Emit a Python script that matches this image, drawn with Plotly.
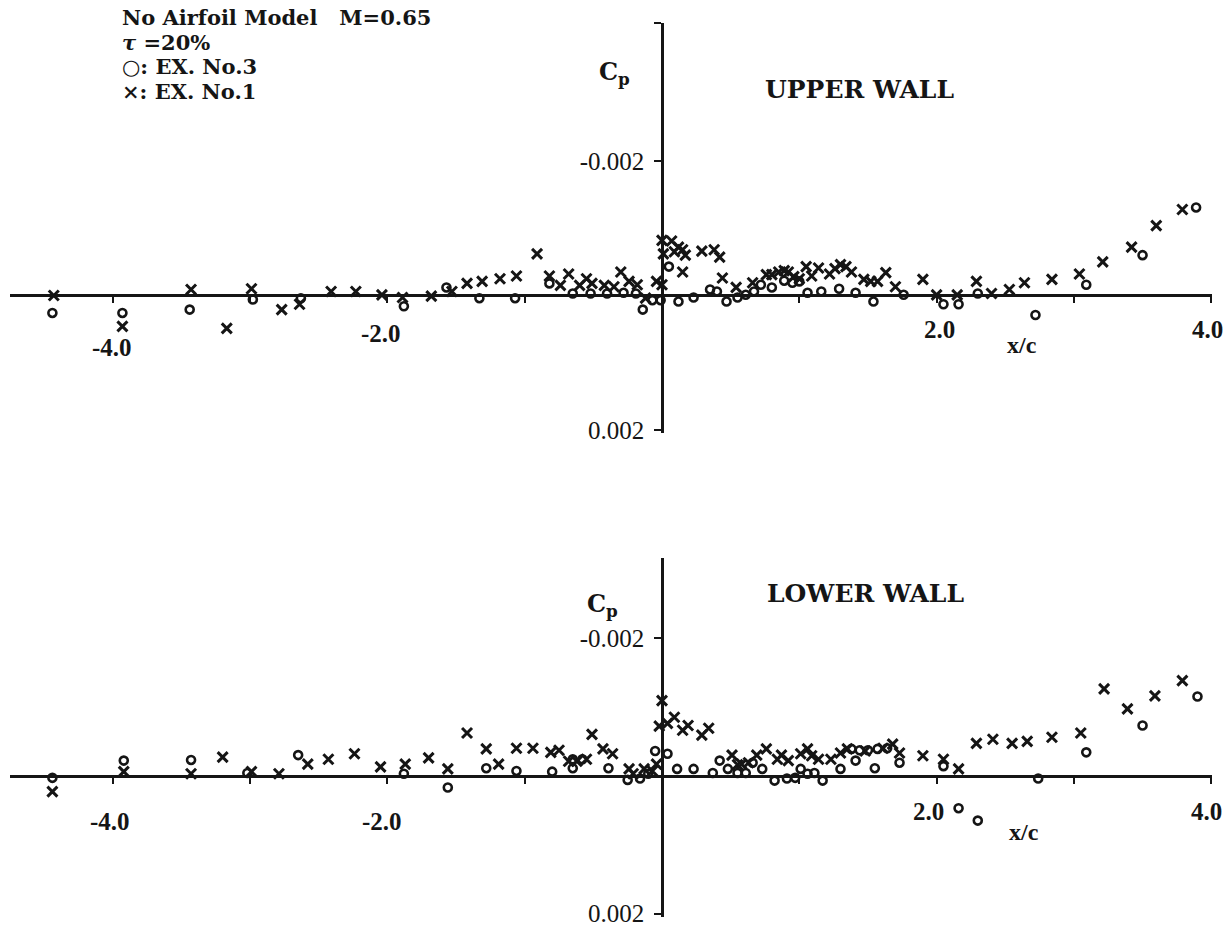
import plotly.graph_objects as go

# ---------------- data (x/c, Cp) ----------------
# UPPER WALL
up_o_x = [-4.44, -3.93, -3.44, -2.98, -2.63, -1.88, -1.57, -1.33, -1.07, -0.82, -0.65, -0.52, -0.40,
          -0.28, -0.19, -0.14, -0.07, -0.01, 0.05, 0.12, 0.23, 0.35, 0.40, 0.47, 0.55, 0.61, 0.67,
          0.72, 0.80, 0.89, 0.95, 1.00, 1.06, 1.16, 1.29, 1.41, 1.54, 1.76, 2.05, 2.16, 2.30, 2.72,
          3.09, 3.50, 3.89]
up_o_cp = [0.00026, 0.00026, 0.00021, 0.00006, 0.00004, 0.00016, -0.00012, 0.00004, 0.00004, -0.00018,
           -0.00003, -0.00003, -0.00003, -0.00004, -0.00003, 0.00021, 0.00007, 0.00007, -0.00043, 0.00009,
           0.00003, -0.00009, -0.00006, 0.00009, 0.00003, -0.00001, -0.00006, -0.00016, -0.00012, -0.00022,
           -0.00019, -0.00021, -0.00004, -0.00006, -0.00010, -0.00004, 0.00009, -0.00001, 0.00013, 0.00013,
           -0.00003, 0.00029, -0.00016, -0.00060, -0.00131]

up_x_x = [-4.43, -3.93, -3.43, -3.17, -2.99, -2.77, -2.64, -2.41, -2.23, -2.04, -1.89, -1.68, -1.53,
          -1.42, -1.31, -1.18, -1.06, -0.91, -0.82, -0.74, -0.68, -0.60, -0.55, -0.51, -0.42, -0.35,
          -0.30, -0.24, -0.18, -0.12, -0.04, 0.00, 0.00, 0.01, 0.07, 0.09, 0.12, 0.15, 0.17, 0.15,
          0.29, 0.38, 0.42, 0.44, 0.54, 0.66, 0.76, 0.80, 0.85, 0.89, 0.92, 0.96, 1.00, 1.05, 1.09,
          1.14, 1.22, 1.26, 1.30, 1.34, 1.38, 1.47, 1.52, 1.57, 1.63, 1.70, 1.90, 2.00, 2.15, 2.29,
          2.40, 2.53, 2.64, 2.84, 3.04, 3.21, 3.42, 3.60, 3.79]
up_x_cp = [0.0, 0.00046, -0.00009, 0.00049, -0.00010, 0.00021, 0.00013, -0.00006, -0.00006, -0.00001,
           0.00003, 0.00001, -0.00006, -0.00018, -0.00021, -0.00025, -0.00029, -0.00062, -0.00029, -0.00015,
           -0.00032, -0.00015, -0.00025, -0.00018, -0.00015, -0.00013, -0.00035, -0.00021, -0.00016, 0.00004,
           -0.00021, -0.00016, -0.00082, -0.00062, -0.00081, -0.00065, -0.00072, -0.00068, -0.00060, -0.00035,
           -0.00066, -0.00068, -0.00057, -0.00026, -0.00012, -0.00019, -0.00031, -0.00031, -0.00035, -0.00037,
           -0.00035, -0.00028, -0.00025, -0.00043, -0.00029, -0.00041, -0.00032, -0.00040, -0.00046, -0.00043,
           -0.00035, -0.00024, -0.00021, -0.00021, -0.00034, -0.00013, -0.00024, -0.00001, -0.00001, -0.00021,
           -0.00003, -0.00009, -0.00019, -0.00024, -0.00032, -0.00050, -0.00072, -0.00104, -0.00128]

# LOWER WALL
lo_o_x = [-4.44, -3.92, -3.43, -3.02, -2.65, -1.88, -1.56, -1.28, -1.06, -0.80, -0.65, -0.65, -0.58,
          -0.39, -0.25, -0.16, -0.10, -0.05, 0.04, 0.11, 0.23, 0.37, 0.42, 0.48, 0.55, 0.61, 0.66,
          0.73, 0.82, 0.91, 0.97, 1.01, 1.06, 1.11, 1.17, 1.30, 1.38, 1.41, 1.44, 1.50, 1.55, 1.57,
          1.64, 1.73, 2.05, 2.16, 2.30, 2.74, 3.09, 3.50, 3.90]
lo_o_cp = [0.00003, -0.00022, -0.00023, -0.00004, -0.00030, -0.00003, 0.00017, -0.00011, -0.00007, -0.00006,
           -0.00024, -0.00011, -0.00024, -0.00011, 0.00006, 0.00004, -0.00003, -0.00036, -0.00032, -0.00010,
           -0.00010, -0.00004, -0.00022, -0.00010, -0.00004, -0.00004, -0.00019, -0.00010, 0.00007, 0.00004,
           0.00003, -0.00010, -0.00003, -0.00004, 0.00007, -0.00010, -0.00039, -0.00022, -0.00037, -0.00037,
           -0.00011, -0.00039, -0.00040, -0.00019, -0.00014, 0.00047, 0.00065, 0.00004, -0.00034, -0.00073,
           -0.00115]

lo_x_x = [-4.44, -3.92, -3.43, -3.20, -2.99, -2.79, -2.58, -2.43, -2.24, -2.05, -1.87, -1.70, -1.56,
          -1.42, -1.28, -1.19, -1.06, -0.94, -0.81, -0.75, -0.68, -0.62, -0.55, -0.51, -0.43, -0.36,
          -0.24, -0.21, -0.13, -0.07, -0.04, -0.02, 0.00, 0.04, 0.09, 0.15, 0.19, 0.29, 0.34, 0.51,
          0.55, 0.58, 0.63, 0.69, 0.76, 0.84, 0.87, 0.92, 1.01, 1.06, 1.09, 1.14, 1.23, 1.30, 1.35,
          1.48, 1.61, 1.68, 1.73, 1.90, 2.05, 2.16, 2.29, 2.41, 2.55, 2.66, 2.84, 3.05, 3.22, 3.39,
          3.59, 3.79]
lo_x_cp = [0.00023, -0.00006, -0.00003, -0.00027, -0.00006, -0.00003, -0.00017, -0.00024, -0.00032, -0.00013,
           -0.00017, -0.00026, -0.00010, -0.00062, -0.00039, -0.00017, -0.00040, -0.00040, -0.00034, -0.00037,
           -0.00021, -0.00021, -0.00024, -0.00060, -0.00039, -0.00032, -0.00010, -0.00003, -0.00010, -0.00007,
           -0.00017, -0.00072, -0.00109, -0.00076, -0.00085, -0.00066, -0.00073, -0.00059, -0.00069, -0.00030,
           -0.00016, -0.00017, -0.00019, -0.00030, -0.00039, -0.00024, -0.00030, -0.00022, -0.00032, -0.00039,
           -0.00029, -0.00024, -0.00024, -0.00033, -0.00039, -0.00036, -0.00040, -0.00046, -0.00033, -0.00029,
           -0.00024, -0.00010, -0.00047, -0.00053, -0.00047, -0.00050, -0.00056, -0.00062, -0.00126, -0.00097,
           -0.00116, -0.00138]

x_ticks = [-4.0, -3.0, -2.0, -1.0, 1.0, 2.0, 3.0, 4.0]
y_tick_vals = [-0.002, 0.002]
y_tick_text = ["-0.002", "0.002"]

# ---------------- layout geometry (pixels) ----------------
W, H = 1231, 937
X0_PX = 662.0          # x/c = 0
X_SCALE = 137.3        # px per unit x/c
XL_PX, XR_PX = 10, 1212

UP_ZERO, UP_K, UP_TOP, UP_BOT = 299.0, 68000.0, 23, 438
LO_ZERO, LO_K, LO_TOP, LO_BOT = 785.0, 69750.0, 565, 928


def px2fx(px):
    return px / W


def py2fy(py):
    return 1 - py / H


x_range = [(XL_PX - X0_PX) / X_SCALE, (XR_PX - X0_PX) / X_SCALE]
up_range = [(UP_BOT - UP_ZERO) / UP_K, (UP_TOP - UP_ZERO) / UP_K]
lo_range = [(LO_BOT - LO_ZERO) / LO_K, (LO_TOP - LO_ZERO) / LO_K]

INK = "#151515"
NUMF = "Liberation Serif"
WORDF = "DejaVu Serif"

fig = go.Figure()

o_marker = dict(symbol="circle-open", size=8, color=INK, line=dict(width=2.6, color=INK))
x_marker = dict(symbol="x-thin-open", size=10, color=INK, line=dict(width=3, color=INK))

fig.add_trace(go.Scatter(x=up_o_x, y=up_o_cp, mode="markers", marker=o_marker,
                         xaxis="x", yaxis="y", cliponaxis=False, showlegend=False))
fig.add_trace(go.Scatter(x=up_x_x, y=up_x_cp, mode="markers", marker=x_marker,
                         xaxis="x", yaxis="y", cliponaxis=False, showlegend=False))
fig.add_trace(go.Scatter(x=lo_o_x, y=lo_o_cp, mode="markers", marker=o_marker,
                         xaxis="x2", yaxis="y2", cliponaxis=False, showlegend=False))
fig.add_trace(go.Scatter(x=lo_x_x, y=lo_x_cp, mode="markers", marker=x_marker,
                         xaxis="x2", yaxis="y2", cliponaxis=False, showlegend=False))

xdom = [px2fx(XL_PX), px2fx(XR_PX)]
common_x = dict(domain=xdom, range=x_range, showgrid=False, zeroline=False, showline=True,
                linecolor=INK, linewidth=2.5, ticks="outside", ticklen=6, tickwidth=2, tickcolor=INK,
                tickvals=x_ticks, showticklabels=False, anchor="free", fixedrange=True)
common_y = dict(showgrid=False, zeroline=False, showline=True, linecolor=INK, linewidth=2.5,
                ticks="outside", ticklen=7, tickwidth=2, tickcolor=INK, side="left",
                anchor="free", position=px2fx(X0_PX),
                tickvals=y_tick_vals, ticktext=y_tick_text, ticklabelstandoff=5,
                tickfont=dict(family=NUMF, size=25, color=INK), fixedrange=True)

fig.update_layout(
    width=W, height=H, margin=dict(l=0, r=0, t=0, b=0),
    paper_bgcolor="white", plot_bgcolor="rgba(0,0,0,0)",
    xaxis=dict(common_x, position=py2fy(UP_ZERO)),
    yaxis=dict(common_y, domain=[py2fy(UP_BOT), py2fy(UP_TOP)], range=up_range,
               minor=dict(tickmode="array", tickvals=[up_range[1]], ticks="outside",
                          ticklen=7, tickwidth=2, tickcolor=INK, showgrid=False)),
    xaxis2=dict(common_x, position=py2fy(LO_ZERO)),
    yaxis2=dict(common_y, domain=[py2fy(LO_BOT), py2fy(LO_TOP)], range=lo_range),
)

ann = []


def txt(text, px, py, size=24, family=WORDF, xanchor="left", yanchor="middle"):
    ann.append(dict(text="<b>%s</b>" % text, x=px2fx(px), y=py2fy(py),
                    xref="paper", yref="paper", showarrow=False, xanchor=xanchor, yanchor=yanchor,
                    borderpad=0, font=dict(family=family, size=size, color=INK)))


# title block (tight leading as in the reference)
TITLE_SIZE = 21
txt("No Airfoil Model&nbsp;&nbsp;&nbsp;M=0.65", 121, 18, size=TITLE_SIZE)
txt("<i>τ</i> =20%", 121, 42.7, size=TITLE_SIZE)
txt("○: EX. No.3", 121, 67.4, size=TITLE_SIZE)
txt("×: EX. No.1", 121, 92.1, size=TITLE_SIZE)

# panel labels
txt("C<sub>p</sub>", 598, 74, size=24)
txt("UPPER WALL", 764, 91, size=25)
txt("C<sub>p</sub>", 586, 612, size=24)
txt("LOWER WALL", 766, 601, size=25)
txt("x/c", 1022, 349, size=24, family=NUMF, xanchor="center")
txt("x/c", 1024, 842, size=24, family=NUMF, xanchor="center")

# x tick labels
txt("-4.0", 112, 352, size=25, family=NUMF, xanchor="center")
txt("-2.0", 381, 337, size=25, family=NUMF, xanchor="center")
txt("2.0", 939, 333, size=25, family=NUMF, xanchor="center")
txt("4.0", 1207, 333, size=25, family=NUMF, xanchor="center")
txt("-4.0", 110, 831, size=25, family=NUMF, xanchor="center")
txt("-2.0", 382, 831, size=25, family=NUMF, xanchor="center")
txt("2.0", 928, 821, size=25, family=NUMF, xanchor="center")
txt("4.0", 1206, 821, size=25, family=NUMF, xanchor="center")

fig.update_layout(annotations=ann)
fig.write_html("out.html")
